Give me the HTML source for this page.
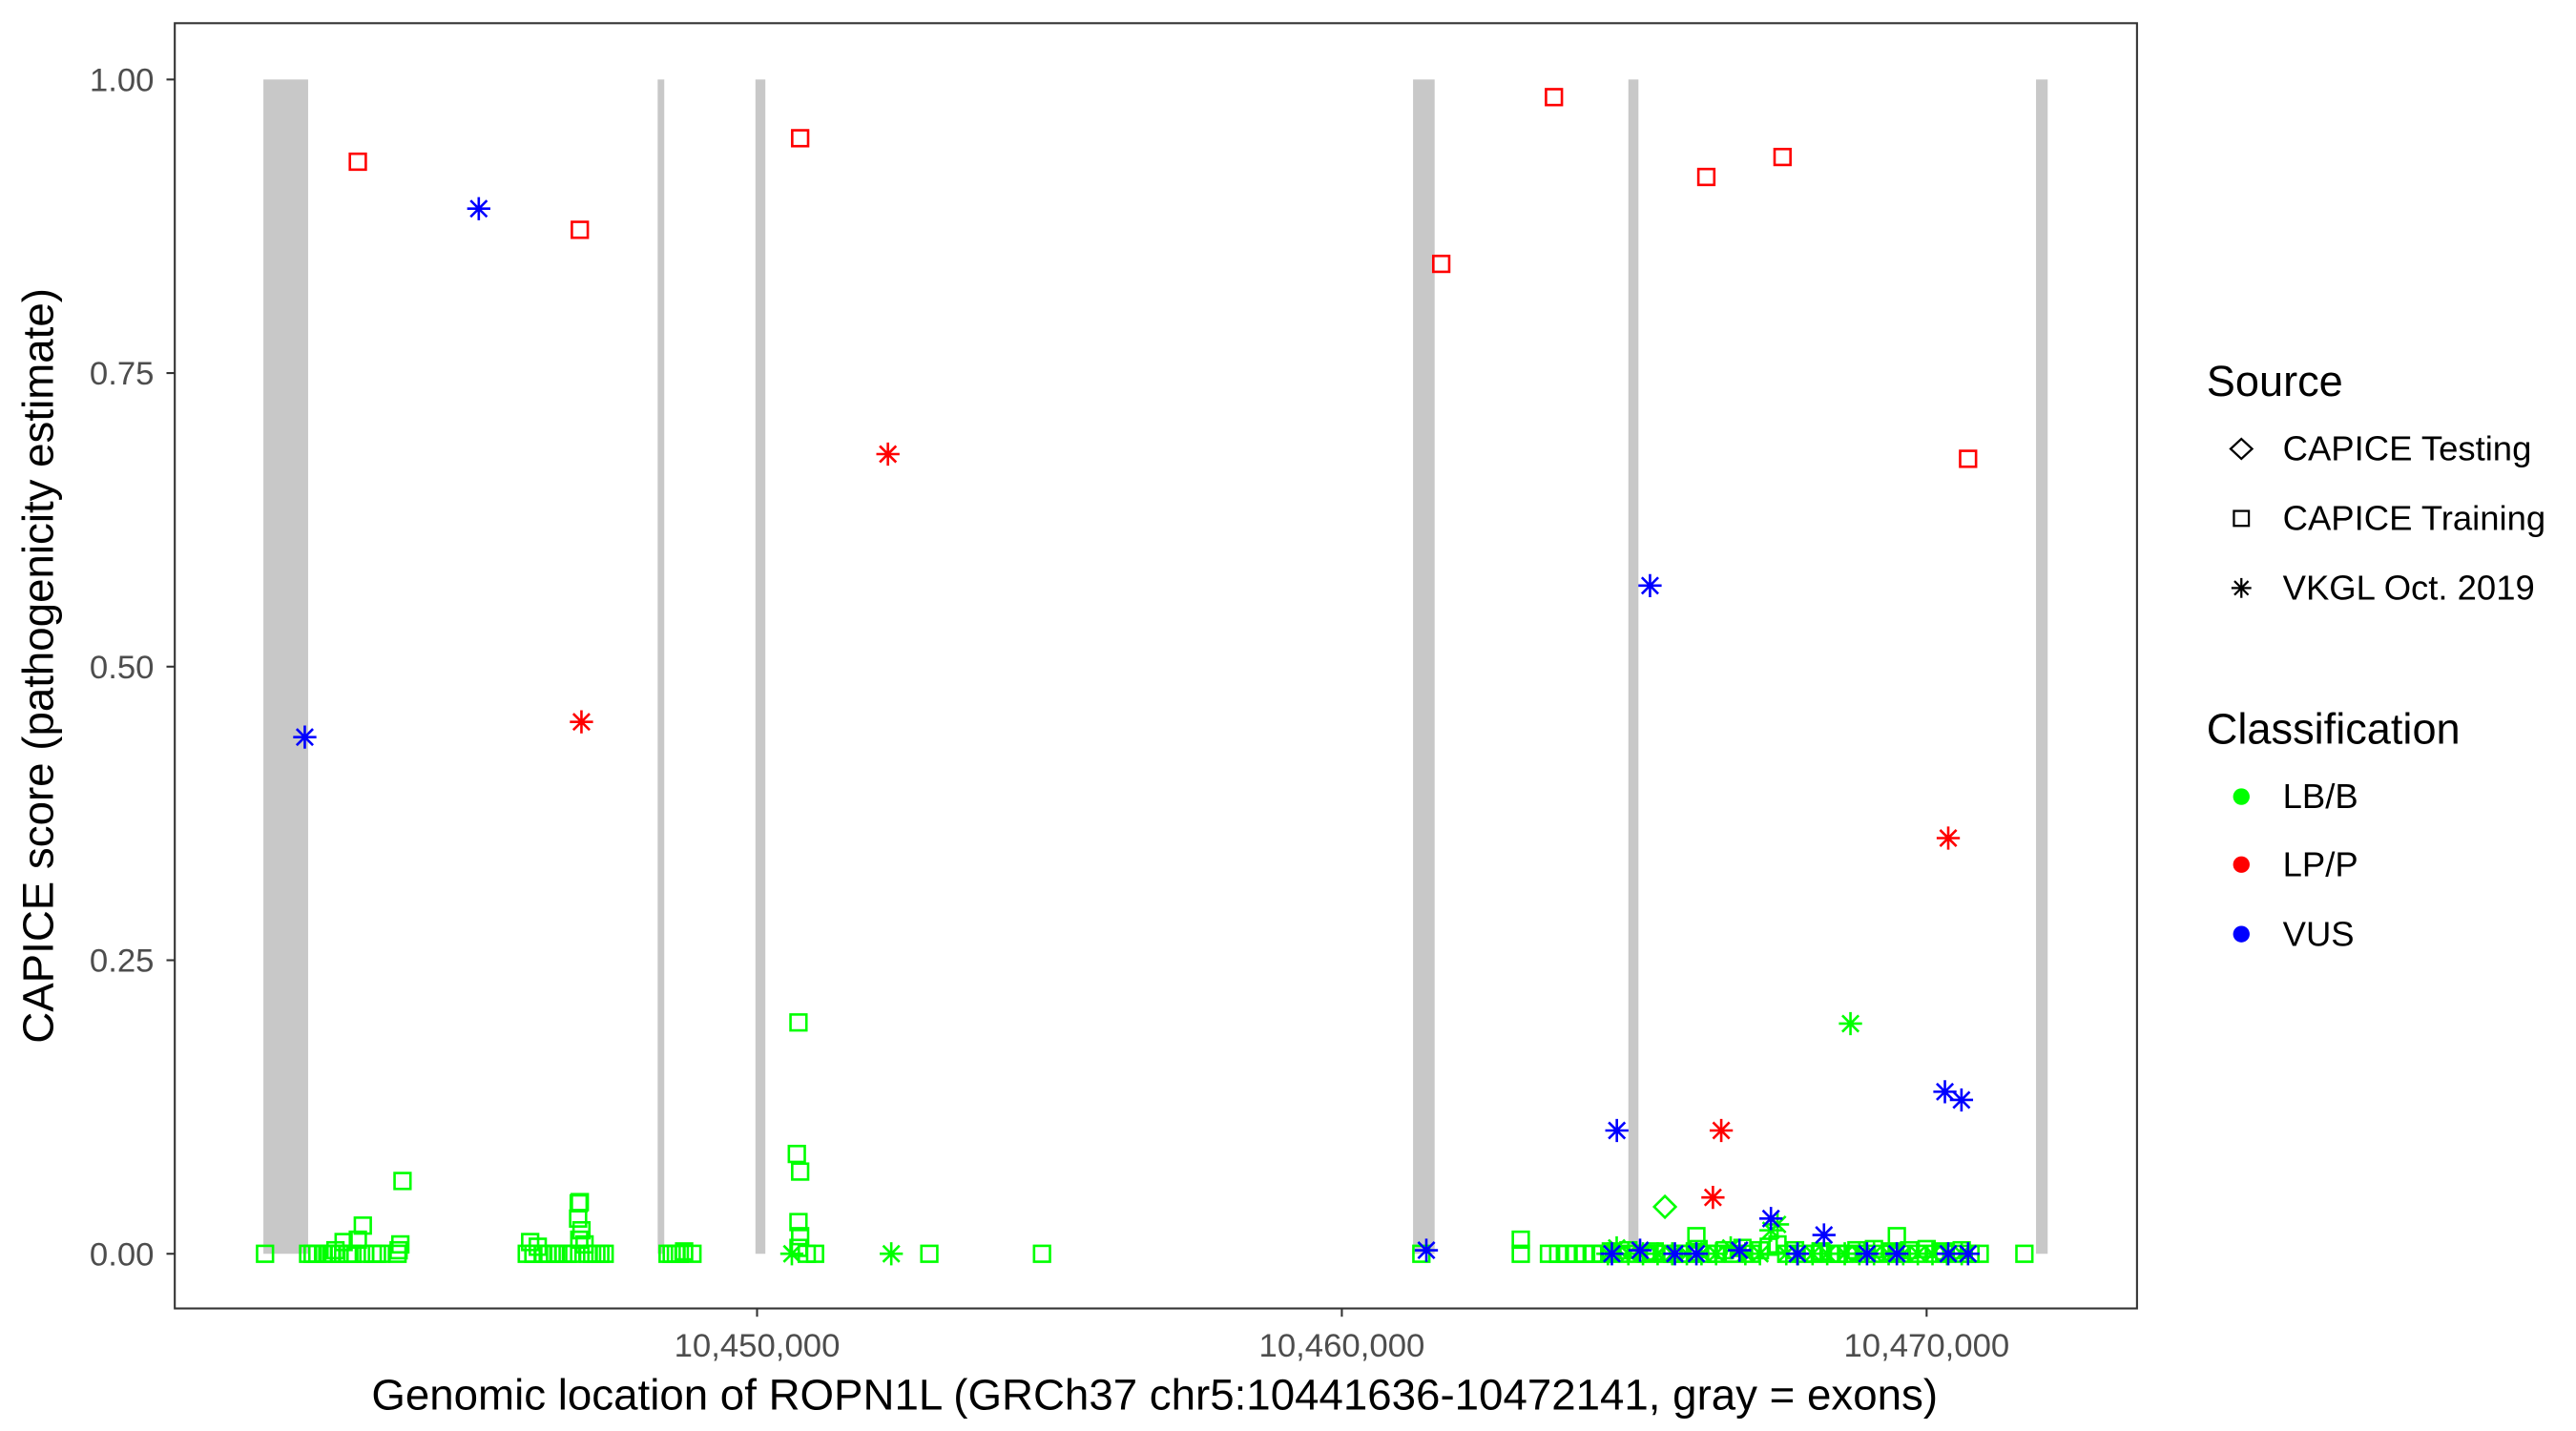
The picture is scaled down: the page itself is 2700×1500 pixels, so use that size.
<!DOCTYPE html>
<html><head><meta charset="utf-8"><style>
html,body{margin:0;padding:0;background:#fff;}
svg{display:block;}
text{font-family:"Liberation Sans",Arial,sans-serif;}
</style></head><body>
<svg id="chart" width="2700" height="1500" viewBox="0 0 1555 864" preserveAspectRatio="none" xmlns="http://www.w3.org/2000/svg">
<rect x="0" y="0" width="1555" height="864" fill="#fff"/>
<g id="exons"></g>
<g id="points"></g>
<rect x="105.5" y="14" width="1184.5" height="776" fill="none" stroke="#333" stroke-width="1.2"/>
<g id="axes"></g>
<text x="697" y="851" font-size="26.3" text-anchor="middle" fill="#000">Genomic location of ROPN1L (GRCh37 chr5:10441636-10472141, gray = exons)</text>
<text transform="translate(32,402) rotate(-90)" font-size="26.3" text-anchor="middle" fill="#000">CAPICE score (pathogenicity estimate)</text>
<g>
<text x="1332" y="239" font-size="26" fill="#000">Source</text>
<path d="M1353 265 L1359.5 271 L1353 277 L1346.5 271 Z" fill="none" stroke="#000" stroke-width="1.3"/>
<text x="1378" y="278" font-size="21" fill="#000">CAPICE Testing</text>
<rect x="1348.5" y="308.5" width="9" height="9" fill="none" stroke="#000" stroke-width="1.3"/>
<text x="1378" y="320" font-size="21" fill="#000">CAPICE Training</text>
<g stroke="#000" stroke-width="1.3"><line x1="1353" y1="349" x2="1353" y2="361"/><line x1="1347" y1="355" x2="1359" y2="355"/><line x1="1348.8" y1="350.8" x2="1357.2" y2="359.2"/><line x1="1348.8" y1="359.2" x2="1357.2" y2="350.8"/></g>
<text x="1378" y="362" font-size="21" fill="#000">VKGL Oct. 2019</text>
<text x="1332" y="449" font-size="26" fill="#000">Classification</text>
<circle cx="1353" cy="481" r="5" fill="#00ff00"/>
<text x="1378" y="488" font-size="21" fill="#000">LB/B</text>
<circle cx="1353" cy="522" r="5" fill="#ff0000"/>
<text x="1378" y="529" font-size="21" fill="#000">LP/P</text>
<circle cx="1353" cy="564" r="5" fill="#0000ff"/>
<text x="1378" y="571" font-size="21" fill="#000">VUS</text>
</g>
</svg>
<script>
// ---- data ----
const exonStarts = [10441558, 10448300, 10449972, 10461218, 10464900, 10471871];
const exonEnds   = [10442323, 10448413, 10450142, 10461587, 10465072, 10472070];
const yTicks = [0, 0.25, 0.5, 0.75, 1];
const yTickLabels = ["0.00", "0.25", "0.50", "0.75", "1.00"];
const xTicks = [10450000, 10460000, 10470000];
const xTickLabels = ["10,450,000", "10,460,000", "10,470,000"];

// CAPICE Training, LB/B (sparse region)
const trainLBPos = [
10441586,10442323,10442400,10442480,10442578,10442650,10442720,10442790,10442861,10442930,
10443003,10443080,10443173,10443258,10443300,10443428,10443500,10443569,10443852,10443900,
10443937,10443870,10446062,10446120,10446175,10446250,10446345,10446420,10446544,10446600,
10446685,10446760,10446827,10446940,10446969,10446997,10446960,10446950,10447050,10447110,
10447180,10447252,10447320,10447394,10448470,10448540,10448612,10448680,10448753,10448895,
10450680,10450708,10450737,10450708,10450737,10450708,10450850,10450992,10452946,10454873,
10461360,10463060,10463060,10466063,10469491,10471672];
const trainLBScore = [
0,0,0,0,0,0,0,0.003,0,0.01,
0,0,0.012,0.024,0,0,0,0,0,0.008,
0.062,0.003,0,0.01,0,0.006,0,0,0,0,
0,0,0,0.03,0.044,0.02,0.012,0.043,0.008,0,
0,0,0,0,0,0,0,0,0.002,0,
0.085,0.197,0.07,0.027,0.015,0.005,0,0,0,0,
0,0.012,0,0.015,0.015,0];
// CAPICE Training, LB/B (dense cluster near 0)
const trainLBDensePos = [
10463542,10463700,10463850,10464000,10464150,10464300,10464450,10464600,10464750,10464900,
10465050,10465200,10465350,10465500,10465650,10465800,10465950,10466100,10466250,10466400,
10466550,10466700,10466850,10467000,10467150,10467300,10467450,10467600,10467750,10467900,
10468050,10468200,10468350,10468500,10468650,10468800,10468950,10469100,10469250,10469400,
10469550,10469700,10469850,10470000,10470150,10470300,10470450,10470600,10470750,10470908];
const trainLBDenseScore = [
0,0,0,0,0,0,0,0.002,0,0.003,
0,0,0.002,0,0,0,0,0.004,0,0,
0.003,0,0.005,0,0.003,0.006,0.008,0,0.003,0,
0,0.002,0,0,0,0.003,0,0.004,0,0.002,
0,0.003,0,0.004,0,0.002,0,0.003,0,0];
// CAPICE Training, LP/P
const trainLPPos = [10443173,10446969,10450737,10461700,10463627,10466233,10467536,10470709];
const trainLPScore = [0.930,0.872,0.950,0.843,0.985,0.917,0.934,0.677];
// CAPICE Testing, LB/B
const testLBPos = [10465525];
const testLBScore = [0.040];
// VKGL, LB/B
const vkglLBPos = [10450595,10452295,10464550,10464700,10464900,10465150,10465400,10465650,10465900,10466150,10466400,10466650,10466900,10467150,10467338,10467450,10467600,10467800,10468050,10468300,10468698,10468600,10468850,10469100,10469350,10469600,10469850,10470100,10470350,10470600];
const vkglLBScore = [0,0,0,0.005,0,0,0,0,0,0,0,0.005,0,0,0.02,0.025,0,0,0,0,0.196,0,0,0,0,0,0,0,0,0];
// VKGL, LP/P
const vkglLPPos = [10446997,10452238,10466346,10466488,10470370];
const vkglLPScore = [0.453,0.681,0.048,0.105,0.354];
// VKGL, VUS
const vkglVUSPos = [10442266,10445241,10465270,10464703,10470313,10470596,10467338,10468245,10461445,10464618,10465100,10465695,10466063,10466800,10467791,10468981,10469491,10470370,10470709];
const vkglVUSScore = [0.440,0.890,0.569,0.105,0.138,0.131,0.030,0.016,0.003,0,0.003,0,0,0.003,0,0,0,0,0];

// ---- scales ----
const NS = "http://www.w3.org/2000/svg";
function xScale(p){ return 457 + (p - 10450000) * 0.0353; }
function yScale(v){ return 757 - v * 709; }
const GREEN = "#00ff00", RED = "#ff0000", BLUE = "#0000ff";

function mk(tag, attrs, parent){
  const e = document.createElementNS(NS, tag);
  for (const k in attrs) e.setAttribute(k, attrs[k]);
  parent.appendChild(e);
  return e;
}

// exons
const gEx = document.getElementById("exons");
for (let i = 0; i < exonStarts.length; i++){
  const x0 = xScale(exonStarts[i]), x1 = xScale(exonEnds[i]);
  const r = mk("rect", {x:x0, y:yScale(1), width:Math.max(x1-x0,1), height:yScale(0)-yScale(1), fill:"#c8c8c8"}, gEx);
  
  
}

// axes
const gAx = document.getElementById("axes");
for (let i = 0; i < yTicks.length; i++){
  const y = yScale(yTicks[i]);
  const t = mk("line", {x1:100.5, x2:105.5, y1:y, y2:y, stroke:"#333", "stroke-width":1.2}, gAx);
  
  
  const l = mk("text", {x:93, y:y+7, "font-size":20, "text-anchor":"end", fill:"#4d4d4d"}, gAx);
  l.textContent = yTickLabels[i];
  
  
}
for (let i = 0; i < xTicks.length; i++){
  const x = xScale(xTicks[i]);
  const t = mk("line", {x1:x, x2:x, y1:790, y2:795, stroke:"#333", "stroke-width":1.2}, gAx);
  
  
  const l = mk("text", {x:x, y:819, "font-size":20, "text-anchor":"middle", fill:"#4d4d4d"}, gAx);
  l.textContent = xTickLabels[i];
  
  
}

// markers
const gP = document.getElementById("points");
function square(p, v, c){
  const x = xScale(p), y = yScale(v);
  const e = mk("rect", {x:x-4.8, y:y-4.8, width:9.6, height:9.6, fill:"none", stroke:c, "stroke-width":1.5}, gP);
  
  
}
function diamond(p, v, c){
  const x = xScale(p), y = yScale(v);
  const e = mk("path", {d:`M${x} ${y-6.5} L${x+6.5} ${y} L${x} ${y+6.5} L${x-6.5} ${y} Z`, fill:"none", stroke:c, "stroke-width":1.5}, gP);
  
  
}
function star(p, v, c){
  const x = xScale(p), y = yScale(v), r = 7, d = 4.95;
  const e = mk("path", {d:`M${x} ${y-r}V${y+r}M${x-r} ${y}H${x+r}M${x-d} ${y-d}L${x+d} ${y+d}M${x-d} ${y+d}L${x+d} ${y-d}`, fill:"none", stroke:c, "stroke-width":1.5}, gP);
  
  
}
for (let i = 0; i < trainLBPos.length; i++) square(trainLBPos[i], trainLBScore[i], GREEN);
for (let i = 0; i < trainLBDensePos.length; i++) square(trainLBDensePos[i], trainLBDenseScore[i], GREEN);
for (let i = 0; i < testLBPos.length; i++) diamond(testLBPos[i], testLBScore[i], GREEN);
for (let i = 0; i < vkglLBPos.length; i++) star(vkglLBPos[i], vkglLBScore[i], GREEN);
for (let i = 0; i < trainLPPos.length; i++) square(trainLPPos[i], trainLPScore[i], RED);
for (let i = 0; i < vkglLPPos.length; i++) star(vkglLPPos[i], vkglLPScore[i], RED);
for (let i = 0; i < vkglVUSPos.length; i++) star(vkglVUSPos[i], vkglVUSScore[i], BLUE);
</script>
</body></html>
